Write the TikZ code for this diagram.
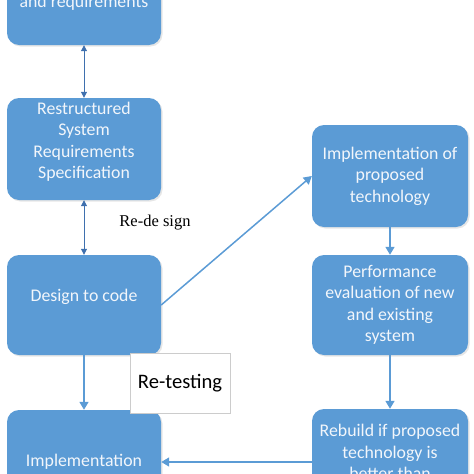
\documentclass[tikz,border=0pt]{standalone}
\usepackage{fontspec}
\setmainfont{Carlito}
\newfontfamily\serifface{Liberation Serif}
\usetikzlibrary{arrows.meta,shadows}
\definecolor{boxblue}{HTML}{5B9BD5}
\definecolor{lineblue}{HTML}{5B9BD5}
\definecolor{darkline}{HTML}{3F70AE}
\definecolor{boxtext}{HTML}{F2F6FB}
\begin{document}
\begin{tikzpicture}[x=1pt,y=-1pt,
    blk/.style={rectangle,rounded corners=12pt,fill=boxblue,text=boxtext,
        minimum width=154pt,align=center,inner sep=2pt,
        font=\fontsize{17.8pt}{21.5pt}\selectfont,
        drop shadow={shadow xshift=1.5pt,shadow yshift=-1.5pt,opacity=0.2}},
    arr/.style={draw=lineblue,line width=1.5pt,-{Triangle[width=9pt,length=8pt]}},
    darr/.style={draw=darkline,line width=1pt,{Triangle[width=6pt,length=6pt]}-{Triangle[width=6pt,length=6pt]}}]
        \useasboundingbox (0,0) rectangle (474,474);
        \clip (0,0) rectangle (474,474);
        % Define the nodes
        \node[blk,minimum height=84pt]                  (req)  at (84,3)    {and requirements};
        \node[blk,minimum height=102pt,text depth=17pt] (rss)  at (84,149)  {Restructured\\System\\Requirements\\Specification};
        \node[blk,minimum height=100pt,text depth=19pt] (dtc)  at (84,305)  {Design to code};
        \node[blk,minimum height=104pt]                 (impl) at (84,462)  {Implementation};
        \node[blk,minimum width=156pt,minimum height=102pt] (ipt) at (390,176) {Implementation of\\proposed\\technology};
        \node[blk,minimum width=156pt,minimum height=100pt] (pe)  at (390,305) {Performance\\evaluation of new\\and existing\\system};
        \node[blk,minimum width=156pt,minimum height=86pt]  (rb)  at (390,452) {Rebuild if proposed\\technology is\\better than};
        \node[draw=black!20,fill=white,minimum width=100pt,minimum height=60pt,
              font=\fontsize{20.6pt}{24pt}\selectfont] (rt) at (180,383) {Re-testing};
        \node[font=\serifface\fontsize{16.5pt}{20pt}\selectfont] (rd) at (155,223) {Re-de sign};
        % Connect the nodes
        \draw[darr] (req) -- (rss);
        \draw[darr] (rss) -- (dtc);
        \draw[arr] (dtc) -- (impl);
        \draw[arr] (dtc.east) -- (ipt.west);
        \draw[arr] (ipt) -- (pe);
        \draw[arr] (pe) -- (rb);
        \draw[arr] (rb.west |- impl.east) -- (impl.east);
    \end{tikzpicture}
\end{document}
